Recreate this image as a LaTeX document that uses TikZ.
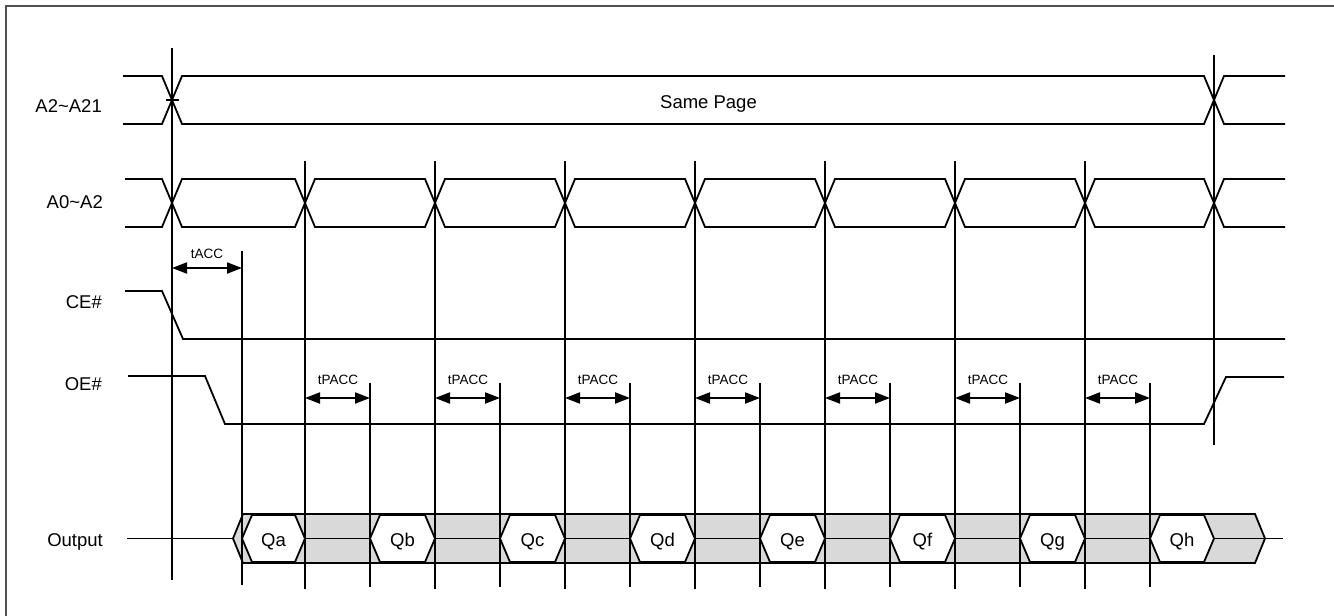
\documentclass[tikz,border=0pt]{standalone}
\usepackage{fontspec}
\setmainfont{Liberation Sans}
\usetikzlibrary{arrows.meta}
\definecolor{busgray}{RGB}{217,217,217}
\definecolor{framegray}{RGB}{80,80,80}
\begin{document}
\begin{tikzpicture}[x=1pt,y=-1pt,
  sig/.style={line width=1.8pt, line join=miter},
  vline/.style={line width=1.6pt},
  lbl/.style={anchor=base east, font=\fontsize{18.5}{20}\selectfont, inner sep=0pt},
  big/.style={anchor=base, font=\fontsize{18.5}{20}\selectfont, inner sep=0pt},
  small/.style={anchor=base, font=\fontsize{13.5}{15}\selectfont, inner sep=0pt},
  dim/.style={line width=2pt, {Triangle[length=15pt,width=11pt]}-{Triangle[length=15pt,width=11pt]}},
  hexq/.style={fill=white, draw=black, line width=1.8pt, line join=miter},
]
\useasboundingbox (0,0) rectangle (1334,616);
% frame
\draw[framegray, line width=2pt] (6,616) -- (6,6) -- (1334,6);

% labels
\node[lbl] (lA21) at (102,112) {A2\textasciitilde A21};
\node[lbl] (lA0) at (103,208) {A0\textasciitilde A2};
\node[lbl] (lCE) at (102,308) {CE\#};
\node[lbl] (lOE) at (102,390) {OE\#};
\node[lbl] (lOut) at (103,546) {Output};

% A2~A21 bus
\draw[sig] (123,76) -- (162,76) -- (172,100) -- (162,124) -- (123,124);
\draw[sig] (172,100) -- (182,76) -- (1204,76) -- (1214,100) -- (1204,124) -- (182,124) -- cycle;
\draw[sig] (1285,76) -- (1224,76) -- (1214,100) -- (1224,124) -- (1285,124);
\draw[line width=1.5pt] (166,100) -- (179,100);
\node[big] (same) at (708.5,108) {Same Page};

% A0~A2 bus
\draw[sig] (125,179) -- (162,179) -- (172,203) -- (162,227) -- (125,227);
\foreach \a/\b in {172/305,305/435,435/565,565/695,695/825,825/955,955/1085,1085/1214}{
  \draw[sig] (\a,203) -- (\a+10,179) -- (\b-10,179) -- (\b,203) -- (\b-10,227) -- (\a+10,227) -- cycle;
}
\draw[sig] (1285,179) -- (1224,179) -- (1214,203) -- (1224,227) -- (1285,227);

% CE#
\draw[sig] (125,291) -- (162,291) -- (183,339) -- (1285,339);
% OE#
\draw[sig] (128,376) -- (205,376) -- (225,424) -- (1204,424) -- (1226,377) -- (1284,377);

% Output bus
\draw[sig, fill=busgray] (233,538.5) -- (243,514) -- (1255,514) -- (1265,538.5) -- (1255,563) -- (243,563) -- cycle;
\draw[sig] (127,538.5) -- (233,538.5);
\foreach \a/\b in {305/370,435/500,565/630,695/760,825/890,955/1020}{
  \draw[sig] (\a,538.5) -- (\b,538.5);
}
\draw[sig] (1085,538.5) -- (1150,538.5);
\draw[sig] (1214,538.5) -- (1283,538.5);
\foreach \s/\e/\q in {242/305/a,370/435/b,500/565/c,630/695/d,760/825/e,890/955/f,1020/1085/g,1150/1214/h}{
  \draw[hexq] (\s,538.5) -- (\s+10,515) -- (\e-10,515) -- (\e,538.5) -- (\e-10,562) -- (\s+10,562) -- cycle;
  \node[big] (q\q) at ({(\s+\e)/2},546) {Q\q};
}

% vertical reference lines
\coordinate (v0t) at (172,48); \coordinate (v0b) at (172,580);
\draw[vline] (v0t) -- (v0b);
\coordinate (v8t) at (1214,55); \coordinate (v8b) at (1214,445);
\draw[vline] (v8t) -- (v8b);
\coordinate (w0t) at (242,251); \coordinate (w0b) at (242,585);
\draw[vline] (w0t) -- (w0b);
\foreach \c [count=\i] in {305,435,565,695,825,955,1085}{
  \coordinate (v\i t) at (\c,161); \coordinate (v\i b) at (\c,589);
  \draw[vline] (v\i t) -- (v\i b);
  \coordinate (w\i t) at (\c+65,383); \coordinate (w\i b) at (\c+65,587);
  \draw[vline] (w\i t) -- (w\i b);
  \coordinate (pa\i) at (\c,398); \coordinate (pb\i) at (\c+65,398);
  \draw[dim] (pa\i) -- (pb\i);
  \node[small] (tp\i) at (\c+33,384) {tPACC};
}

% tACC
\coordinate (ta) at (172,268); \coordinate (tb) at (242,268);
\draw[dim] (ta) -- (tb);
\node[small] (tacc) at (207,258) {tACC};
\end{tikzpicture}
\end{document}
